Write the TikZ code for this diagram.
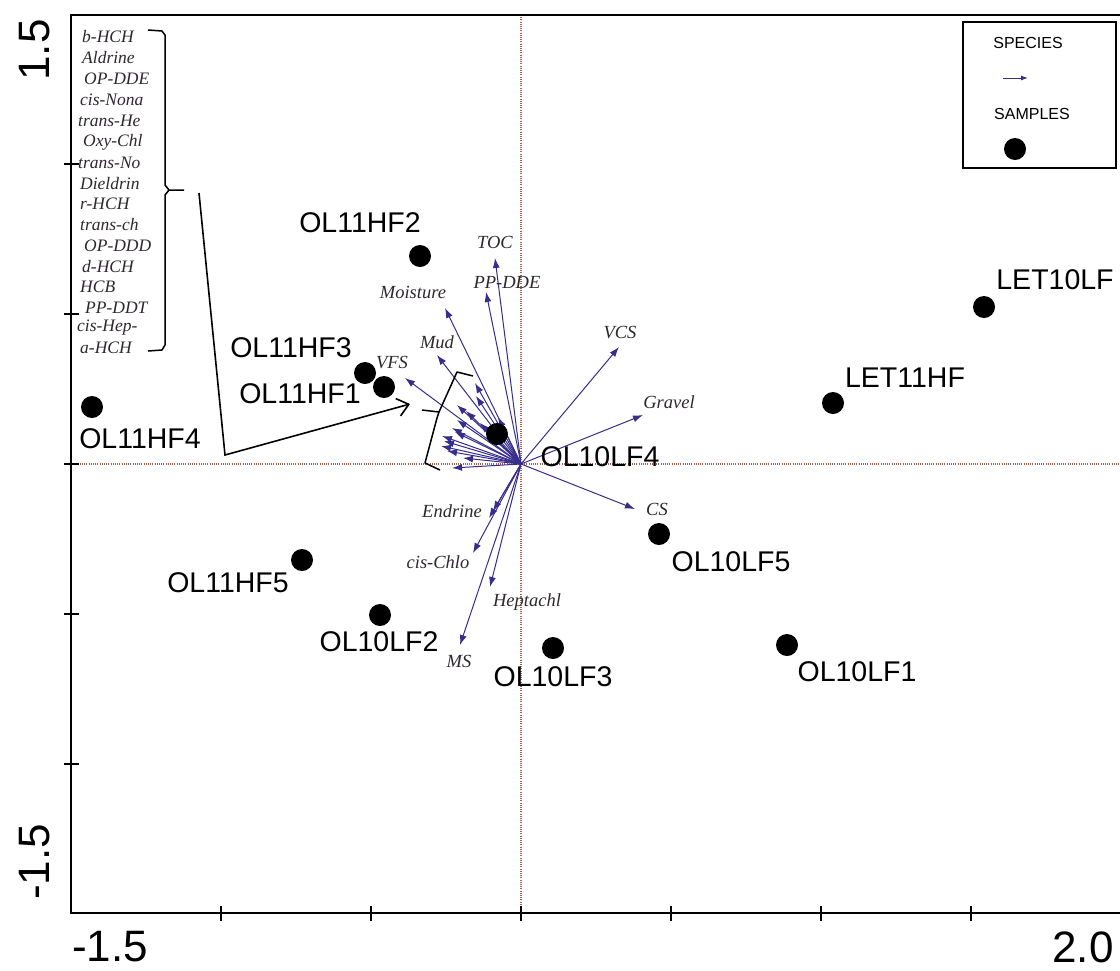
\documentclass[tikz,border=0pt]{standalone}
\usepackage{fontspec}
\setmainfont{Liberation Sans}
\newfontfamily\tms{Liberation Serif}
\usetikzlibrary{arrows.meta}
\definecolor{spblue}{RGB}{55,45,140}
\definecolor{axbrown}{RGB}{165,95,75}
\definecolor{lbl}{RGB}{45,40,45}
\tikzset{
  frameline/.style={line width=2.4pt, line cap=rect},
  tickline/.style={line width=1.6pt},
  zeroline/.style={dash pattern=on 1pt off 1.2pt, color=axbrown, line width=1.1pt},
  sp/.style={draw=spblue, line width=1pt, -{Latex[length=10pt,width=7pt]}},
  spl/.style={font=\tms\itshape\fontsize{18.5}{20}\selectfont, text=lbl, inner sep=0pt},
  lst/.style={font=\tms\itshape\fontsize{17.5}{20}\selectfont, text=lbl, inner sep=0pt, anchor=west},
  sdot/.style={circle, fill=black, minimum size=22pt, inner sep=0pt},
  slab/.style={font=\fontsize{28.5}{30}\selectfont, inner sep=0pt},
  axnum/.style={font=\fontsize{44}{46}\selectfont, inner sep=0pt},
  legtxt/.style={font=\fontsize{16}{18}\selectfont, inner sep=0pt},
  brk/.style={line width=1.5pt, line join=round}
}
\begin{document}
\begin{tikzpicture}[x=1pt,y=-1pt]
\useasboundingbox (0,0) rectangle (1120,970);
\fill[white] (0,0) rectangle (1120,970);

% zero lines
\coordinate (O) at (521,464);
\draw[zeroline] (521,15) -- (521,913);
\draw[zeroline] (71,464) -- (1120,464);

% frame
\draw[frameline] (1120,15) -- (71,15) -- (71,913) -- (1120,913);
% ticks
\foreach \y in {164,314,464,614,764} \draw[tickline] (64,\y) -- (79,\y);
\foreach \x in {221,371,521,671,821,971} \draw[tickline] (\x,906) -- (\x,921);

% axis numbers
\node[axnum, rotate=90] (ytop) at (35,50) {1.5};
\node[axnum, rotate=90] (ybot) at (35,862) {-1.5};
\node[axnum] (xl) at (110,947) {-1.5};
\node[axnum] (xr) at (1083,947) {2.0};

% legend
\draw[line width=2pt] (963,22) rectangle (1116,168);
\node[legtxt] (legsp) at (1028,43) {SPECIES};
\coordinate (la1) at (1003,78);
\coordinate (la2) at (1028,78);
\draw[sp, -{Latex[length=7pt,width=5pt]}] (la1) -- (la2);
\node[legtxt] (legsa) at (1032,114) {SAMPLES};
\node[sdot] (legdot) at (1015,149) {};

% species list
\foreach \t/\xx/\yy in {b-HCH/82/37, Aldrine/82/58, OP-DDE/84/79, cis-Nona/80/100, trans-He/78/121, Oxy-Chl/83/142, trans-No/78/163, Dieldrin/80/184, r-HCH/80/204, trans-ch/80/225, OP-DDD/84/246, d-HCH/82/267, HCB/80/287, PP-DDT/85/308, cis-Hep-/77/328, a-HCH/80/348}
  \node[lst] (l-\t) at (\xx,\yy) {\t};

% brace on list
\coordinate (bt) at (148,30);
\coordinate (bb) at (148,351);
\coordinate (bm) at (184,190);
\draw[brk] (bt) -- (162,31) -- (165,35) -- (165,185) -- (169,190) -- (bm);
\draw[brk] (169,190) -- (165,195) -- (165,345) -- (162,350) -- (bb);

% pointer arrow from list to cluster
\coordinate (pa) at (199,193);
\coordinate (pb) at (225,455);
\coordinate (pc) at (410,404);
\draw[line width=1.6pt, line join=miter, -{Straight Barb[length=11pt,width=18pt,line width=1.6pt]}] (pa) -- (pb) -- (pc);

% species arrows (labelled)
\foreach \n/\tx/\ty in {toc/495/258, ppdde/486/292, moist/445/308, mud/437/355, vfs/405/378, vcs/619/347, grav/643/415, cs/635/509, endr/489/518, endr2/493/511, cisc/473/553, hept/490/587, ms/460/645}
{
  \coordinate (\n) at (\tx,\ty);
  \draw[sp] (O) -- (\n);
}
% cluster arrows (unlabelled)
\foreach \n/\tx/\ty in {c1/475/383, c2/476/396, c3/457/405, c4/498/417, c5/480/423, c6/457/420, c7/452/428, c8/442/436, c9/444/441, c10/441/446, c11/447/451, c12/463/458, c13/452/468, c14/455/432, c15/466/411, c16/490/430}
{
  \coordinate (\n) at (\tx,\ty);
  \draw[sp] (O) -- (\n);
}

% species labels
\node[spl] (t-toc) at (495,242) {TOC};
\node[spl] (t-ppdde) at (507,282) {PP-DDE};
\node[spl] (t-moist) at (413,292) {Moisture};
\node[spl] (t-mud) at (437,342) {Mud};
\node[spl] (t-vfs) at (392,363) {VFS};
\node[spl] (t-vcs) at (620,333) {VCS};
\node[spl] (t-grav) at (669,402) {Gravel};
\node[spl] (t-cs) at (657,509) {CS};
\node[spl] (t-endr) at (452,511) {Endrine};
\node[spl] (t-cisc) at (438,562) {cis-Chlo};
\node[spl] (t-hept) at (527,602) {Heptachl};
\node[spl] (t-ms) at (459,661) {MS};

% cluster bracket
\draw[brk] (473,376) -- (457,372) -- (439,412) -- (422,410);
\draw[brk] (439,412) -- (437,418) -- (425,463) -- (440,470);

% samples
\node[sdot] (s-hf2) at (420,256) {};
\node[slab] (n-hf2) at (360,223) {OL11HF2};
\node[sdot] (s-hf3) at (365,373) {};
\node[slab] (n-hf3) at (291,348) {OL11HF3};
\node[sdot] (s-hf1) at (384,387) {};
\node[slab] (n-hf1) at (300,394) {OL11HF1};
\node[sdot] (s-hf4) at (92,407) {};
\node[slab] (n-hf4) at (140,439) {OL11HF4};
\node[sdot] (s-lf4) at (497,434) {};
\node[slab] (n-lf4) at (600,457) {OL10LF4};
\node[sdot] (s-let10) at (984,307) {};
\node[slab] (n-let10) at (1055,280) {LET10LF};
\node[sdot] (s-let11) at (833,403) {};
\node[slab] (n-let11) at (905,378) {LET11HF};
\node[sdot] (s-lf5) at (659,534) {};
\node[slab] (n-lf5) at (731,562) {OL10LF5};
\node[sdot] (s-lf1) at (787,645) {};
\node[slab] (n-lf1) at (857,672) {OL10LF1};
\node[sdot] (s-hf5) at (302,560) {};
\node[slab] (n-hf5) at (228,583) {OL11HF5};
\node[sdot] (s-lf2) at (380,615) {};
\node[slab] (n-lf2) at (379,642) {OL10LF2};
\node[sdot] (s-lf3) at (553,648) {};
\node[slab] (n-lf3) at (553,677) {OL10LF3};
\end{tikzpicture}
\end{document}
